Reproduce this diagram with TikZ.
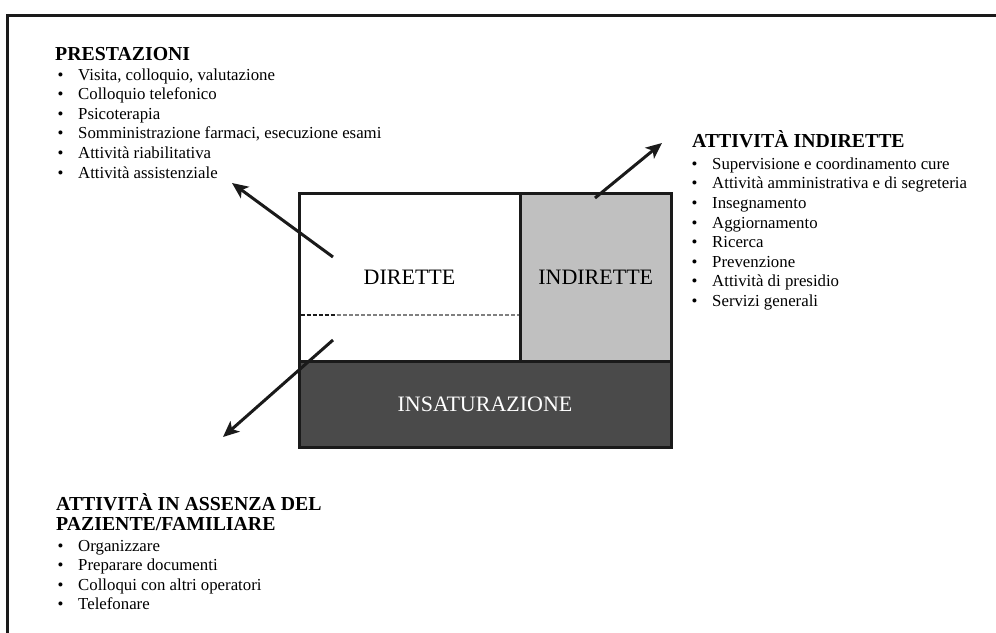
\documentclass[tikz,border=0pt]{standalone}
\usepackage{fontspec}
\setmainfont{Liberation Serif}
\usetikzlibrary{arrows.meta}

\definecolor{lightfill}{HTML}{C0C0C0}
\definecolor{darkfill}{HTML}{4A4A4A}
\definecolor{inkline}{HTML}{1A1A1A}

\tikzset{
  head/.style={anchor=base west, inner sep=0pt, font=\fontsize{19.8}{20}\selectfont\bfseries},
  item/.style={anchor=base west, inner sep=0pt, font=\fontsize{16.8}{19.6}\selectfont},
  area/.style={draw=inkline, line width=3pt, inner sep=0pt, font=\fontsize{22}{24}\selectfont},
  arr/.style={draw=inkline, line width=3pt, -{Stealth[length=16pt, width=14pt, inset=4pt]}}
}
\newcommand{\bul}{\makebox[20.5pt][l]{\textbullet}}

\begin{document}
\begin{tikzpicture}[x=1pt, y=-1pt]
\useasboundingbox (0,0) rectangle (996,632);

% outer frame
\coordinate (f0) at (7.5,15.5);
\coordinate (f1) at (1000,15.5);
\coordinate (f2) at (7.5,640);
\draw[inkline, line width=3pt] (f1) -- (f0) -- (f2);

% the three areas
\path (485,404.25) node[area, fill=darkfill, text=white, minimum width=372pt, minimum height=86.5pt] (insat) {INSATURAZIONE}
      (409.5,277) node[area, fill=white, minimum width=221pt, minimum height=168pt] (dir) {DIRETTE}
      (595.75,277) node[area, fill=lightfill, minimum width=150.5pt, minimum height=168pt] (indir) {INDIRETTE};

\coordinate (dl) at (300.5,315);
\coordinate (dm) at (337,315);
\coordinate (dr) at (519,315);
\draw[inkline, line width=1.2pt, dash pattern=on 4pt off 2pt] (dl) -- (dm);
\draw[gray, line width=1.2pt, dash pattern=on 4pt off 2pt] (dm) -- (dr);

% arrows
\coordinate (a1s) at (333,257);
\coordinate (a1e) at (232,183);
\coordinate (a2s) at (595,198);
\coordinate (a2e) at (662,143);
\coordinate (a3s) at (333,340);
\coordinate (a3e) at (223,437);
\draw[arr] (a1s) -- (a1e);
\draw[arr] (a2s) -- (a2e);
\draw[arr] (a3s) -- (a3e);

% lists
\path (55,60) node[head] (prestH) {PRESTAZIONI}
      (57.5,80) node[item] (p1) {\bul Visita, colloquio, valutazione}
      (57.5,99.6) node[item] (p2) {\bul Colloquio telefonico}
      (57.5,119.2) node[item] (p3) {\bul Psicoterapia}
      (57.5,138.8) node[item] (p4) {\bul Somministrazione farmaci, esecuzione esami}
      (57.5,158.4) node[item] (p5) {\bul Attività riabilitativa}
      (57.5,178) node[item] (p6) {\bul Attività assistenziale};

\path (692,147.5) node[head] (indH) {ATTIVITÀ INDIRETTE}
      (691.5,169.3) node[item] (i1) {\bul Supervisione e coordinamento cure}
      (691.5,188.9) node[item] (i2) {\bul Attività amministrativa e di segreteria}
      (691.5,208.5) node[item] (i3) {\bul Insegnamento}
      (691.5,228.1) node[item] (i4) {\bul Aggiornamento}
      (691.5,247.7) node[item] (i5) {\bul Ricerca}
      (691.5,267.3) node[item] (i6) {\bul Prevenzione}
      (691.5,286.9) node[item] (i7) {\bul Attività di presidio}
      (691.5,306.5) node[item] (i8) {\bul Servizi generali};

\path (56,510) node[head] (assH1) {ATTIVITÀ IN ASSENZA DEL}
      (56,530) node[head] (assH2) {PAZIENTE/FAMILIARE}
      (57.5,551) node[item] (s1) {\bul Organizzare}
      (57.5,570.6) node[item] (s2) {\bul Preparare documenti}
      (57.5,590.2) node[item] (s3) {\bul Colloqui con altri operatori}
      (57.5,609.8) node[item] (s4) {\bul Telefonare};

\end{tikzpicture}
\end{document}
